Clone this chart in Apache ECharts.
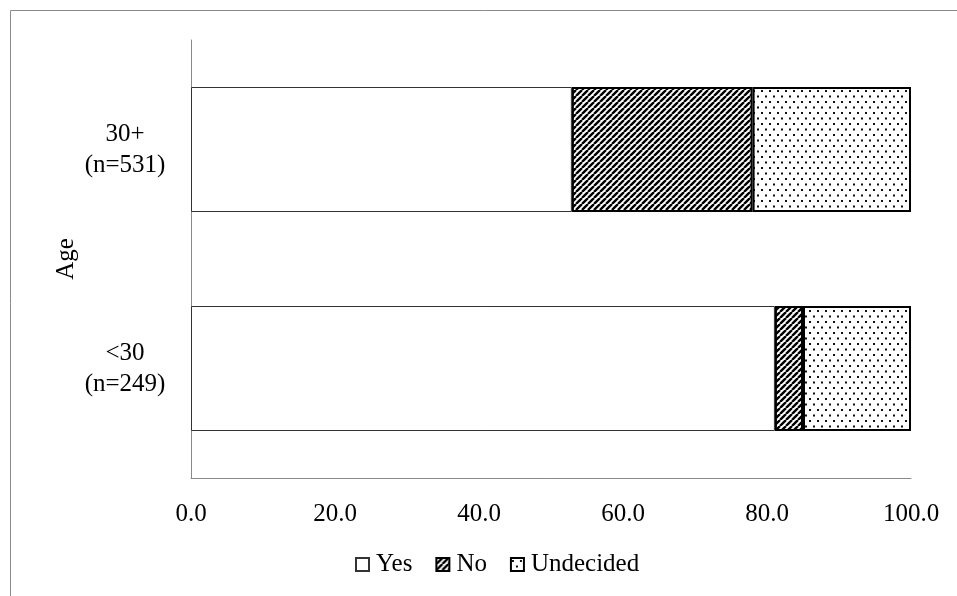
<!DOCTYPE html>
<html>
<head>
<meta charset="utf-8">
<script src="https://cdn.jsdelivr.net/npm/echarts@6/dist/echarts.min.js"></script>
<style>
  html, body { margin: 0; padding: 0; background: #fff; }
  #chart { width: 957px; height: 596px; }
</style>
</head>
<body>
<div id="chart"></div>
<script>
// Age groups, bottom to top on the category axis
const categories = ['<30\n(n=249)', '30+\n(n=531)'];
// Share of respondents (%) per answer
const yesValues = [81.1, 52.9];
const noValues = [3.9, 25.1];
const undecidedValues = [15.0, 22.0];
const xTicks = [0, 20, 40, 60, 80, 100];

const FONT = '"Liberation Serif", "Times New Roman", serif';

// Diagonal hatch fill for "No"
function hatchPattern() {
  const s = 6;
  const c = document.createElement('canvas');
  c.width = s; c.height = s;
  const g = c.getContext('2d');
  g.fillStyle = '#fff';
  g.fillRect(0, 0, s, s);
  g.strokeStyle = '#000';
  g.lineWidth = 2.4;
  g.beginPath();
  for (let k = -s; k <= s; k += s) {
    g.moveTo(k, s);
    g.lineTo(k + s, 0);
  }
  g.stroke();
  return c;
}

// Sparse dot fill for "Undecided"
function dotPattern() {
  const w = 8, h = 11;
  const c = document.createElement('canvas');
  c.width = w; c.height = h;
  const g = c.getContext('2d');
  g.fillStyle = '#fff';
  g.fillRect(0, 0, w, h);
  g.fillStyle = '#111';
  g.fillRect(1, 2, 2, 2);
  g.fillRect(5, 7.5, 2, 2);
  return c;
}

const chart = echarts.init(document.getElementById('chart'), null, { renderer: 'canvas' });

const barWidth = 125;

chart.setOption({
  animation: false,
  backgroundColor: '#fff',
  grid: { left: 191, right: 46, top: 40, bottom: 118, containLabel: false },
  xAxis: {
    type: 'value',
    min: xTicks[0],
    max: xTicks[xTicks.length - 1],
    interval: xTicks[1] - xTicks[0],
    axisLine: { show: true, lineStyle: { color: '#8a8a8a', width: 1 } },
    axisTick: { show: false },
    splitLine: { show: false },
    axisLabel: {
      margin: 24,
      color: '#000',
      fontFamily: FONT,
      fontSize: 25,
      formatter: v => v.toFixed(1)
    }
  },
  yAxis: {
    type: 'category',
    data: categories,
    name: 'Age',
    nameLocation: 'middle',
    nameGap: 112,
    nameMoveOverlap: false,
    nameTextStyle: { color: '#000', fontFamily: FONT, fontSize: 25 },
    axisLine: { show: true, lineStyle: { color: '#8a8a8a', width: 1 } },
    axisTick: { show: false },
    axisLabel: {
      margin: 66,
      align: 'center',
      color: '#000',
      fontFamily: FONT,
      fontSize: 25,
      lineHeight: 31
    }
  },
  legend: {
    left: 350,
    top: 547,
    icon: 'rect',
    itemWidth: 13,
    itemHeight: 13,
    itemGap: 23,
    textStyle: { color: '#000', fontFamily: FONT, fontSize: 25, padding: [0, 0, 0, 2] },
    data: ['Yes', 'No', 'Undecided']
  },
  series: [
    {
      name: 'Yes',
      type: 'bar',
      stack: 'total',
      barWidth: barWidth,
      data: yesValues,
      itemStyle: { color: '#fff', borderColor: '#333', borderWidth: 1 }
    },
    {
      name: 'No',
      type: 'bar',
      stack: 'total',
      barWidth: barWidth,
      data: noValues,
      itemStyle: {
        color: { image: hatchPattern(), repeat: 'repeat' },
        borderColor: '#000',
        borderWidth: 2
      }
    },
    {
      name: 'Undecided',
      type: 'bar',
      stack: 'total',
      barWidth: barWidth,
      data: undecidedValues,
      itemStyle: {
        color: { image: dotPattern(), repeat: 'repeat' },
        borderColor: '#000',
        borderWidth: 2
      }
    }
  ],
  graphic: [
    { type: 'line', shape: { x1: 10.5, y1: 10.5, x2: 957, y2: 10.5 }, style: { stroke: '#8a8a8a', lineWidth: 1 }, silent: true },
    { type: 'line', shape: { x1: 10.5, y1: 10.5, x2: 10.5, y2: 596 }, style: { stroke: '#8a8a8a', lineWidth: 1 }, silent: true }
  ]
});
</script>
</body>
</html>
